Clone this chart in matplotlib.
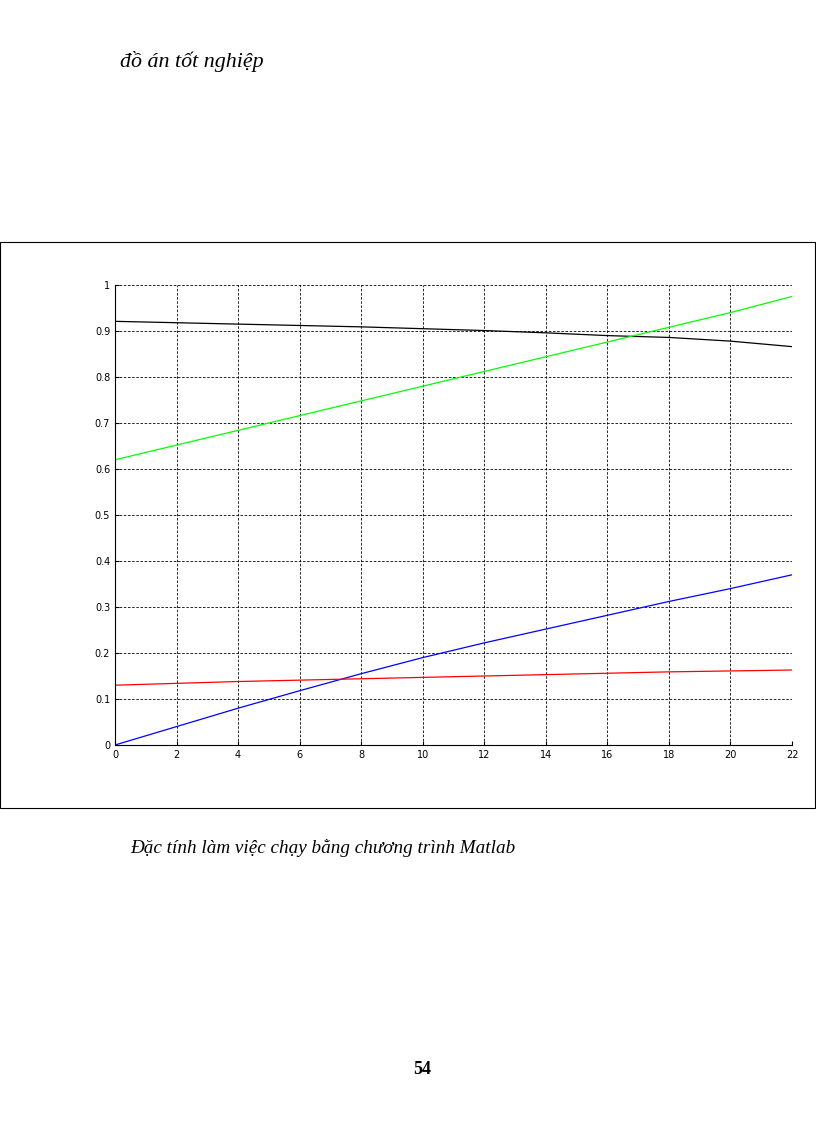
import matplotlib
matplotlib.use("Agg")
import matplotlib.pyplot as plt
from matplotlib.patches import Rectangle

x = [0, 2, 4, 6, 8, 10, 12, 14, 16, 18, 20, 22]
black = [0.921, 0.918, 0.915, 0.912, 0.909, 0.905, 0.901, 0.896, 0.890, 0.886, 0.878, 0.866]
green = [0.620, 0.652, 0.684, 0.716, 0.748, 0.780, 0.812, 0.844, 0.876, 0.908, 0.940, 0.975]
blue = [0.000, 0.040, 0.080, 0.118, 0.155, 0.190, 0.222, 0.252, 0.282, 0.312, 0.340, 0.370]
red = [0.130, 0.134, 0.138, 0.141, 0.144, 0.147, 0.150, 0.153, 0.156, 0.159, 0.161, 0.163]
xticks = list(range(0, 23, 2))
yticks = [0, 0.1, 0.2, 0.3, 0.4, 0.5, 0.6, 0.7, 0.8, 0.9, 1]
ylabels = ["0", "0.1", "0.2", "0.3", "0.4", "0.5", "0.6", "0.7", "0.8", "0.9", "1"]

fig = plt.figure(figsize=(8.16, 11.23), dpi=100)
fig.patches.append(Rectangle((0, 1 - 808/1123), 815/816, (808-242)/1123, transform=fig.transFigure,
                             fill=False, edgecolor="black", linewidth=0.8))
ax = fig.add_axes([115/816, 1 - 745/1123, 677/816, 460/1123])
ax.plot(x, black, color="black", lw=0.9)
ax.plot(x, green, color="#00ff00", lw=0.9)
ax.plot(x, blue, color="blue", lw=0.9)
ax.plot(x, red, color="red", lw=0.9)
ax.set_xlim(0, 22)
ax.set_ylim(0, 1)
ax.set_xticks(xticks)
ax.set_yticks(yticks)
ax.set_yticklabels(ylabels)
ax.spines["top"].set_visible(False)
ax.spines["right"].set_visible(False)
ax.tick_params(labelsize=7, direction="in", length=3)
ax.grid(True, color="black", linestyle=(0, (3, 2)), linewidth=0.6)

fig.text(120/816, 1 - 62/1123, "đồ án tốt nghiệp", fontsize=15.8, family="Liberation Serif",
         style="italic", va="center")
fig.text(130/816, 1 - 848/1123, "Đặc tính làm việc chạy bằng chương trình Matlab", fontsize=13.8,
         family="Liberation Serif", style="italic", va="center")
fig.text(422/816, 1 - 1070/1123, "54", fontsize=13, family="Liberation Serif", weight="bold",
         ha="center", va="center")
fig.savefig("out.png", dpi=100)
